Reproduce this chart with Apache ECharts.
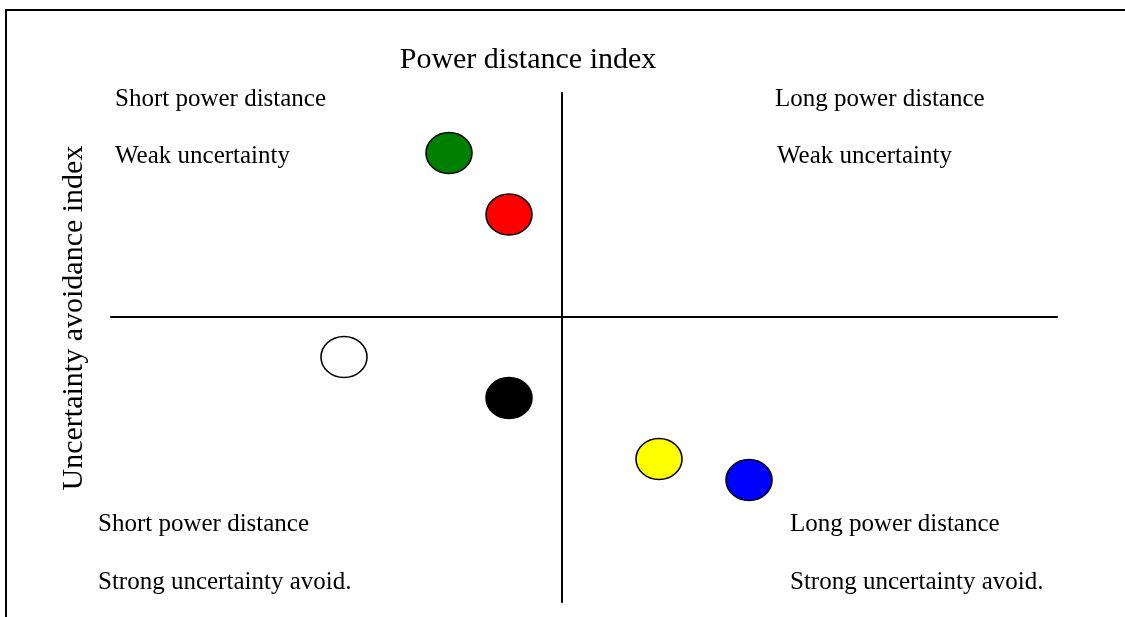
<!DOCTYPE html>
<html>
<head>
<meta charset="utf-8">
<script src="https://cdn.jsdelivr.net/npm/echarts@6/dist/echarts.min.js"></script>
<style>
  html, body { margin: 0; padding: 0; background: #fff; }
  #chart { width: 1125px; height: 617px; }
</style>
</head>
<body>
<div id="chart"></div>
<script>
// positions of the six groups: power distance (x) vs uncertainty avoidance (y)
const groupNames = ['Green', 'Red', 'White', 'Black', 'Yellow', 'Blue']
const groupColors = ['#008000', '#ff0000', '#ffffff', '#000000', '#ffff00', '#0000ff']
const powerDistance = [-11.3, -5.3, -21.8, -5.3, 9.7, 18.7]
const uncertainty = [16.35, 10.2, -4.05, -8.15, -14.25, -16.35]

const quadrantLabels = [
  ['Short power distance', 'Weak uncertainty'],
  ['Long power distance', 'Weak uncertainty'],
  ['Short power distance', 'Strong uncertainty avoid.'],
  ['Long power distance', 'Strong uncertainty avoid.']
]

const chart = echarts.init(document.getElementById('chart'))

const serif = '"Liberation Serif", "Times New Roman", serif'

const label = (text, x, y) => ({
  type: 'text',
  x: x,
  y: y,
  style: { text: text, font: '25px ' + serif, fill: '#000', align: 'left', verticalAlign: 'middle' }
})

const option = {
  animation: false,
  backgroundColor: '#fff',
  grid: { left: 111, right: 68, top: 93, bottom: 15 },
  xAxis: {
    type: 'value',
    min: -45.1,
    max: 49.5,
    axisLine: { onZero: true, lineStyle: { color: '#000', width: 2 } },
    axisTick: { show: false },
    axisLabel: { show: false },
    splitLine: { show: false }
  },
  yAxis: {
    type: 'value',
    min: -28.55,
    max: 22.35,
    axisLine: { onZero: true, lineStyle: { color: '#000', width: 2 } },
    axisTick: { show: false },
    axisLabel: { show: false },
    splitLine: { show: false }
  },
  series: [
    {
      type: 'scatter',
      symbol: 'circle',
      symbolSize: [46, 41],
      data: groupNames.map((n, i) => ({
        name: n,
        value: [powerDistance[i], uncertainty[i]],
        itemStyle: { color: groupColors[i], borderColor: '#000', borderWidth: 1.5, opacity: 1 }
      }))
    }
  ],
  graphic: [
    { type: 'line', shape: { x1: 5, y1: 10, x2: 1125, y2: 10 }, style: { stroke: '#000', lineWidth: 2 } },
    { type: 'line', shape: { x1: 6, y1: 10, x2: 6, y2: 617 }, style: { stroke: '#000', lineWidth: 2 } },
    {
      type: 'text', x: 528, y: 60,
      style: { text: 'Power distance index', font: '30px ' + serif, fill: '#000', align: 'center', verticalAlign: 'middle' }
    },
    {
      type: 'text', x: 74, y: 318, rotation: Math.PI / 2,
      style: { text: 'Uncertainty avoidance index', font: '30px ' + serif, fill: '#000', align: 'center', verticalAlign: 'middle' }
    },
    label(quadrantLabels[0][0], 115, 99),
    label(quadrantLabels[0][1], 115, 156),
    label(quadrantLabels[1][0], 775, 99),
    label(quadrantLabels[1][1], 777, 156),
    label(quadrantLabels[2][0], 98, 524),
    label(quadrantLabels[2][1], 98, 582),
    label(quadrantLabels[3][0], 790, 524),
    label(quadrantLabels[3][1], 790, 582)
  ]
}

chart.setOption(option)
</script>
</body>
</html>
